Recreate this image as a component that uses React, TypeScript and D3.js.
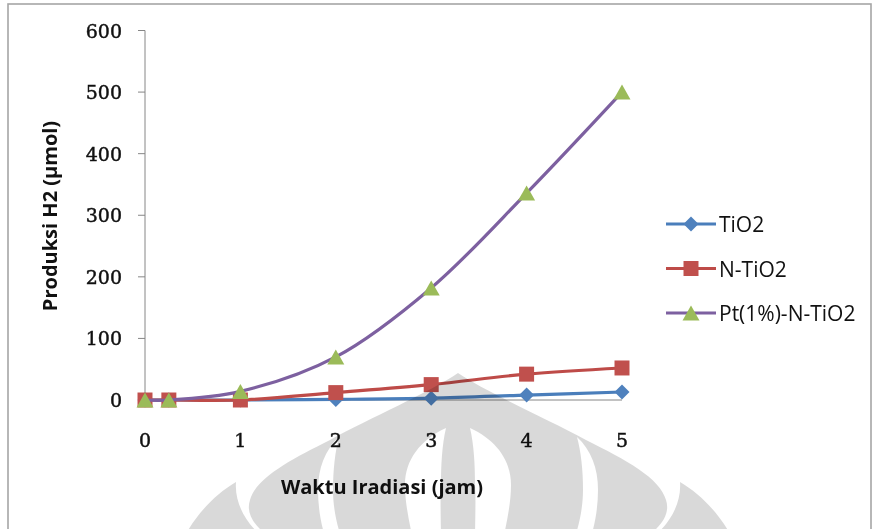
import React from "react";
import * as d3 from "d3";

// Irradiation time (hours) and H2 production (µmol) per photocatalyst
const hours = [0, 0.25, 1, 2, 3, 4, 5];
const tio2 = [0, 0, 0, 1, 3, 8, 13];
const nTio2 = [0, 0, 0, 12, 25, 42, 52];
const ptNTio2 = [0, 0, 14, 70, 182, 336, 500];

const seriesNames = ["TiO2", "N-TiO2", "Pt(1%)-N-TiO2"];
const lineColors = ["#4A7EBB", "#BE4B48", "#7D60A0"];
const markerColors = ["#4F81BD", "#C0504D", "#9BBB59"];
const markerKinds = ["diamond", "square", "triangle"];

const yTicks = [0, 100, 200, 300, 400, 500, 600];
const xTicks = [0, 1, 2, 3, 4, 5];

const W = 873;
const H = 529;

const x = d3.scaleLinear().domain([0, 5]).range([145, 622]);
const y = d3.scaleLinear().domain([0, 600]).range([400, 30.5]);

function markerPath(kind: string): string {
  if (kind === "diamond") {
    const r = 7.5;
    return `M0,${-r}L${r},0L0,${r}L${-r},0Z`;
  }
  if (kind === "square") {
    const r = 7.5;
    return `M${-r},${-r}H${r}V${r}H${-r}Z`;
  }
  const w = 8.5;
  const h = 7.5;
  return `M0,${-h}L${w},${h}L${-w},${h}Z`;
}

const line = d3
  .line<number>()
  .x((_, i) => x(hours[i]))
  .y((v) => y(v))
  .curve(d3.curveCatmullRom.alpha(0.5));

const allSeries = [tio2, nTio2, ptNTio2];

// Faint onion-dome emblem printed behind the lower part of the page
function Emblem() {
  const cx = 458;
  const mirror = (d: string) =>
    d.replace(/(-?\d+(?:\.\d+)?),(-?\d+(?:\.\d+)?)/g, (_, a, b) => `${2 * cx - +a},${b}`);
  const domeLeft =
    "M458,373 C430,392 370,418 330,440 C290,460 256,478 250,500 C244,518 262,535 285,545";
  const dome = `${domeLeft} L${2 * cx - 285},545 ${mirror(
    "C262,535 244,518 250,500 C256,478 290,460 330,440 C370,418 430,392 458,373"
  )} Z`;
  const wing = "M236,482 C214,495 194,516 180,545 L274,545 C252,532 234,508 236,482 Z";
  const outerGap =
    "M339,437 C325,450 318,468 318,490 C318,510 322,530 328,545 L344,545 C338,530 333,510 333,490 C333,470 335,452 339,437 Z";
  const innerGap =
    "M446,428 C420,440 405,460 405,485 C405,505 410,525 414,545 L441,545 C441,520 440,500 441,485 C441,465 442,445 446,428 Z";
  return (
    <g>
      <defs>
        <mask id="emblem-mask" maskUnits="userSpaceOnUse" x="0" y="0" width={W} height={H}>
          <rect x="0" y="0" width={W} height={H} fill="black" />
          <path d={dome} fill="white" />
          <path d={wing} fill="white" />
          <path d={mirror(wing)} fill="white" />
          <path d={outerGap} fill="black" />
          <path d={mirror(outerGap)} fill="black" />
          <path d={innerGap} fill="black" />
          <path d={mirror(innerGap)} fill="black" />
        </mask>
      </defs>
      <rect
        x="0"
        y="0"
        width={W}
        height={H}
        fill="#d9d9d9"
        mask="url(#emblem-mask)"
        style={{ mixBlendMode: "multiply" }}
      />
    </g>
  );
}

export default function App() {
  const tickFont = "'DejaVu Serif', serif";
  const labelFont = "'Open Sans', sans-serif";
  const legendY = [224, 268.5, 313];
  return (
    <div style={{ position: "fixed", left: 0, top: 0 }}>
      <svg width={W} height={H} style={{ display: "block", background: "#fff" }}>
        <rect x={8} y={4} width={W - 10} height={H + 10} fill="#fff" stroke="#a6a6a6" strokeWidth={1.6} />

        {/* value axis */}
        <line x1={x(0)} x2={x(0)} y1={y(600)} y2={y(0)} stroke="#868686" strokeWidth={1} />
        {yTicks.map((t) => (
          <g key={t}>
            <line x1={x(0) - 7} x2={x(0)} y1={y(t)} y2={y(t)} stroke="#868686" strokeWidth={1} />
            <text
              x={122}
              y={y(t)}
              textAnchor="end"
              dominantBaseline="central"
              fontFamily={tickFont}
              fontSize={19}
              fill="#111"
              stroke="#111"
              strokeWidth={0.45}
            >
              {t}
            </text>
          </g>
        ))}

        {/* category axis */}
        <line x1={x(0)} x2={x(5)} y1={y(0)} y2={y(0)} stroke="#868686" strokeWidth={1} />
        {xTicks.map((t) => (
          <text
            key={t}
            x={x(t)}
            y={440}
            textAnchor="middle"
            dominantBaseline="central"
            fontFamily={tickFont}
            fontSize={19}
            fill="#111"
            stroke="#111"
            strokeWidth={0.45}
          >
            {t}
          </text>
        ))}

        <text
          x={382}
          y={486}
          textAnchor="middle"
          dominantBaseline="central"
          fontFamily={labelFont}
          fontWeight="bold"
          fontSize={20}
          fill="#111"
        >
          Waktu Iradiasi (jam)
        </text>
        <text
          transform="translate(49,216) rotate(-90)"
          textAnchor="middle"
          dominantBaseline="central"
          fontFamily={labelFont}
          fontWeight="bold"
          fontSize={20}
          fill="#111"
        >
          Produksi H2 (µmol)
        </text>

        {/* series */}
        {allSeries.map((vals, s) => (
          <g key={seriesNames[s]}>
            <path d={line(vals) ?? ""} fill="none" stroke={lineColors[s]} strokeWidth={3.2} strokeLinejoin="round" />
            {vals.map((v, i) => (
              <path
                key={i}
                d={markerPath(markerKinds[s])}
                transform={`translate(${x(hours[i])},${y(v)})`}
                fill={markerColors[s]}
              />
            ))}
          </g>
        ))}

        {/* legend */}
        {seriesNames.map((name, s) => (
          <g key={name} transform={`translate(666,${legendY[s]})`}>
            <line x1={0} x2={50} y1={0} y2={0} stroke={lineColors[s]} strokeWidth={3.2} />
            <path d={markerPath(markerKinds[s])} transform="translate(25,0)" fill={markerColors[s]} />
            <text
              x={53}
              y={0}
              dominantBaseline="central"
              fontFamily={labelFont}
              fontSize={21}
              fill="#111"
            >
              {name}
            </text>
          </g>
        ))}

        <Emblem />
      </svg>
    </div>
  );
}
